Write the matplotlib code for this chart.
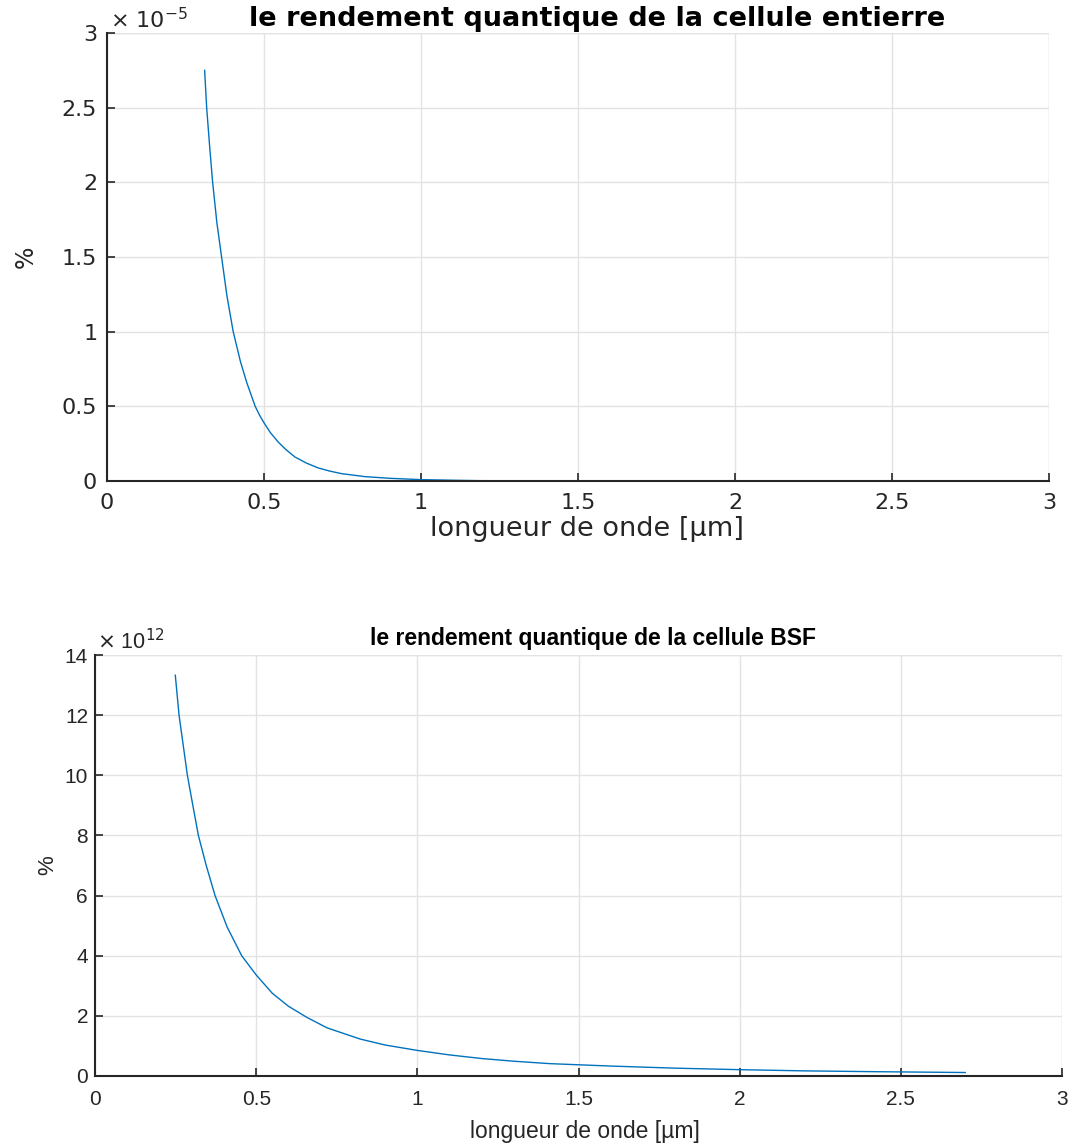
import matplotlib
matplotlib.use("Agg")
import matplotlib.pyplot as plt
from matplotlib.ticker import FuncFormatter, MultipleLocator

# --- data ---
x_top = [0.311, 0.3175, 0.327, 0.3365, 0.35, 0.365, 0.382, 0.402, 0.425, 0.445, 0.472,
         0.486, 0.50, 0.52, 0.5456, 0.57, 0.599, 0.635, 0.673, 0.71, 0.7473, 0.822,
         0.90, 1.00, 1.10, 1.19, 1.50, 2.00, 2.70]
y_top = [2.75e-5, 2.50e-5, 2.24e-5, 2.00e-5, 1.73e-5, 1.50e-5, 1.24e-5, 1.00e-5,
         0.80e-5, 0.66e-5, 0.50e-5, 0.44e-5, 0.39e-5, 0.325e-5, 0.26e-5, 0.21e-5,
         0.16e-5, 0.12e-5, 0.087e-5, 0.066e-5, 0.049e-5, 0.029e-5, 0.018e-5,
         0.009e-5, 0.005e-5, 0.002e-5, 0.001e-5, 0.0005e-5, 0.0002e-5]

x_bot = [0.249, 0.2606, 0.2865, 0.30, 0.3206, 0.345, 0.3723, 0.41, 0.455, 0.50, 0.55,
         0.60, 0.657, 0.72, 0.822, 0.90, 1.00, 1.10, 1.20, 1.30, 1.412, 1.60, 1.80,
         2.00, 2.20, 2.40, 2.50, 2.60, 2.70]
y_bot = [13.33e12, 12.0e12, 10.0e12, 9.2e12, 8.0e12, 7.0e12, 6.0e12, 4.95e12, 4.0e12,
         3.36e12, 2.75e12, 2.32e12, 1.95e12, 1.6e12, 1.23e12, 1.03e12, 0.85e12,
         0.70e12, 0.58e12, 0.49e12, 0.41e12, 0.33e12, 0.26e12, 0.21e12, 0.17e12,
         0.145e12, 0.135e12, 0.125e12, 0.115e12]

xticks = [0, 0.5, 1, 1.5, 2, 2.5, 3]
title_top = "le rendement quantique de la cellule entierre"
title_bot = "le rendement quantique de la cellule BSF"
xlabel = "longueur de onde [µm]"
ylabel = "%"

line_color = "#0072BD"
axis_color = "#262626"
grid_color = "#e3e3e3"

fig = plt.figure(figsize=(10.74, 11.46), dpi=100)

def style(ax, fontfam, fsize, xpad, ypad):
    for s in ("top", "right"):
        ax.spines[s].set_visible(False)
    for s in ("left", "bottom"):
        ax.spines[s].set_color(axis_color)
        ax.spines[s].set_linewidth(1.5)
    ax.grid(True, color=grid_color, linewidth=1.0)
    ax.set_axisbelow(True)
    ax.tick_params(direction="in", length=6, width=1.2, colors=axis_color,
                   labelsize=fsize)
    ax.tick_params(axis="x", pad=xpad)
    ax.tick_params(axis="y", pad=ypad)
    for lab in ax.get_xticklabels() + ax.get_yticklabels():
        lab.set_family(fontfam)

# top axes
ax1 = fig.add_axes([0.0996, 0.5803, 0.9767 - 0.0996, 0.9712 - 0.5803])
ax1.plot(x_top, y_top, color=line_color, linewidth=1.0)
ax1.set_xlim(0, 3)
ax1.set_ylim(0, 3e-5)
ax1.set_xticks(xticks)
ax1.xaxis.set_major_formatter(FuncFormatter(lambda v, p: f"{v:g}"))
ax1.yaxis.set_major_locator(MultipleLocator(0.5e-5))
ax1.yaxis.set_major_formatter(FuncFormatter(lambda v, p: f"{v/1e-5:g}"))
ax1.axhline(3e-5, color=grid_color, linewidth=1.0, zorder=0)
ax1.axvline(3, color=grid_color, linewidth=1.0, zorder=0)
style(ax1, "DejaVu Sans", 16, 9, 7)
ax1.set_title(title_top, fontsize=19.5, fontweight="bold", family="DejaVu Sans",
              color="black", pad=5, x=0.52)
ax1.set_xlabel(xlabel, fontsize=19.5, family="DejaVu Sans", color=axis_color, labelpad=2)
ax1.xaxis.label.set_x(0.51)
ax1.set_ylabel(ylabel, fontsize=17, family="DejaVu Sans", color=axis_color, labelpad=17)
ax1.text(0.003, 1.002, r"$\times$ 10$^{-5}$", transform=ax1.transAxes, fontsize=16,
         family="DejaVu Sans", color=axis_color, ha="left", va="bottom")

# bottom axes
ax2 = fig.add_axes([0.0885, 0.0611, 0.9888 - 0.0885, 0.4284 - 0.0611])
ax2.plot(x_bot, y_bot, color=line_color, linewidth=1.0)
ax2.set_xlim(0, 3)
ax2.set_ylim(0, 14e12)
ax2.set_xticks(xticks)
ax2.xaxis.set_major_formatter(FuncFormatter(lambda v, p: f"{v:g}"))
ax2.yaxis.set_major_locator(MultipleLocator(2e12))
ax2.yaxis.set_major_formatter(FuncFormatter(lambda v, p: f"{v/1e12:g}"))
ax2.axhline(14e12, color=grid_color, linewidth=1.0, zorder=0)
ax2.axvline(3, color=grid_color, linewidth=1.0, zorder=0)
style(ax2, "Liberation Sans", 15, 10, 5)
ax2.set_title(title_bot, fontsize=16.5, fontweight="bold", family="Liberation Sans",
              color="black", pad=7, x=0.515)
ax2.set_xlabel(xlabel, fontsize=16.5, family="Liberation Sans", color=axis_color, labelpad=8)
ax2.xaxis.label.set_x(0.507)
ax2.set_ylabel(ylabel, fontsize=16, family="Liberation Sans", color=axis_color, labelpad=5)
ax2.text(0.002, 1.003, r"$\times$ 10$^{12}$", transform=ax2.transAxes, fontsize=15.5,
         family="Liberation Sans", color=axis_color, ha="left", va="bottom")

fig.savefig("out.png", dpi=100)
